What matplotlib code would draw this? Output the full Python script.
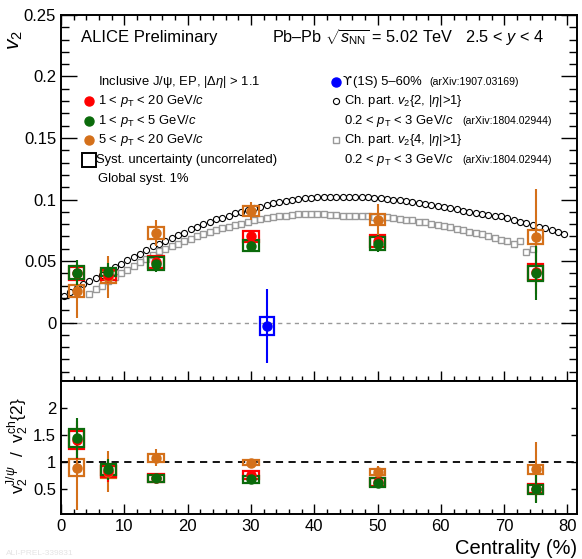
import matplotlib
matplotlib.use('Agg')
import matplotlib.pyplot as plt
from matplotlib.patches import Rectangle
from matplotlib.ticker import MultipleLocator
import numpy as np

plt.rcParams['font.family'] = ['Liberation Sans', 'DejaVu Sans']
plt.rcParams['mathtext.fontset'] = 'custom'
plt.rcParams['mathtext.rm'] = 'Liberation Sans'
plt.rcParams['mathtext.it'] = 'Liberation Sans:italic'
plt.rcParams['mathtext.bf'] = 'Liberation Sans:bold'

# J/psi v2 vs centrality
cent = [2.5, 7.5, 15, 30, 50, 75]
v2_red = [0.040, 0.039, 0.049, 0.070, 0.066, 0.041]
stat_red = [0.008, 0.007, 0.005, 0.004, 0.005, 0.018]
syst_red = [0.0050, 0.0040, 0.0050, 0.0045, 0.0048, 0.0065]
v2_green = [0.0405, 0.041, 0.048, 0.0625, 0.064, 0.040]
stat_green = [0.010, 0.0077, 0.0065, 0.004, 0.007, 0.022]
syst_green = [0.0054, 0.0034, 0.0052, 0.0047, 0.0054, 0.0063]
v2_orange = [0.0256, 0.037, 0.0728, 0.0909, 0.0836, 0.0698]
stat_orange = [0.0216, 0.017, 0.0105, 0.0075, 0.013, 0.039]
syst_orange = [0.0046, 0.0048, 0.0047, 0.0042, 0.0044, 0.0057]

# Upsilon(1S) 5-60%
cent_ups = [32.5]
v2_ups = [-0.0027]
stat_ups = [0.030]
syst_ups = [0.0071]

# ratio to charged particle v2{2}
r_red = [1.41, 0.83, 0.71, 0.76, 0.63, 0.51]
rstat_red = [0.35, 0.20, 0.05, 0.05, 0.05, 0.24]
rsyst_red = [0.16, 0.10, 0.07, 0.07, 0.07, 0.08]
r_green = [1.445, 0.864, 0.70, 0.68, 0.617, 0.495]
rstat_green = [0.37, 0.20, 0.05, 0.05, 0.05, 0.26]
rsyst_green = [0.167, 0.11, 0.07, 0.07, 0.08, 0.085]
r_orange = [0.90, 0.82, 1.08, 0.99, 0.82, 0.865]
rstat_orange = [0.79, 0.38, 0.16, 0.04, 0.11, 0.51]
rsyst_orange = [0.155, 0.11, 0.07, 0.04, 0.06, 0.08]

# charged particles v2{2,|eta|>1}
cent_ch2 = np.arange(0.5, 80, 1.0)
v2_ch2 = [0.0215, 0.0248, 0.0283, 0.0315, 0.034, 0.0365, 0.039, 0.042, 0.045, 0.048,
          0.051, 0.053, 0.056, 0.059, 0.062, 0.064, 0.066, 0.069, 0.071, 0.073,
          0.076, 0.078, 0.080, 0.082, 0.084, 0.085, 0.087, 0.089, 0.090, 0.0915,
          0.093, 0.094, 0.0955, 0.097, 0.098, 0.099, 0.100, 0.1005, 0.101, 0.1015,
          0.102, 0.102, 0.102, 0.102, 0.102, 0.102, 0.102, 0.102, 0.102, 0.1015,
          0.101, 0.1005, 0.100, 0.0995, 0.099, 0.098, 0.097, 0.096, 0.0955, 0.095,
          0.094, 0.093, 0.092, 0.091, 0.090, 0.089, 0.088, 0.0875, 0.087, 0.087,
          0.085, 0.083, 0.082, 0.081, 0.0795, 0.078, 0.0765, 0.0755, 0.074, 0.072]

# charged particles v2{4,|eta|>1}
cent_ch4 = np.arange(4.5, 75, 1.0)
v2_ch4 = [0.0235, 0.027, 0.030, 0.034, 0.037, 0.040, 0.043, 0.046, 0.049, 0.052,
          0.055, 0.058, 0.060, 0.062, 0.064, 0.066, 0.068, 0.070, 0.072, 0.0735,
          0.075, 0.0765, 0.078, 0.079, 0.0805, 0.082, 0.083, 0.084, 0.085, 0.0857,
          0.0865, 0.087, 0.0875, 0.088, 0.088, 0.088, 0.088, 0.088, 0.0877, 0.0875,
          0.087, 0.087, 0.087, 0.0868, 0.0865, 0.086, 0.0858, 0.0855, 0.085, 0.084,
          0.0835, 0.083, 0.082, 0.0815, 0.0805, 0.0795, 0.0785, 0.0775, 0.076, 0.075,
          0.0735, 0.0725, 0.072, 0.070, 0.069, 0.067, 0.0665, 0.064, 0.066, 0.057,
          0.060]

c_red = '#ff0000'
c_green = '#0b6b0b'
c_orange = '#d4701a'
c_blue = '#0000ff'


def draw(ax, x, y, stat, syst, col, hw=1.2):
    for xi, yi, si in zip(x, y, syst):
        ax.add_patch(Rectangle((xi - hw, yi - si), 2 * hw, 2 * si, fill=False,
                               edgecolor=col, lw=1.6, zorder=3))
    ax.errorbar(x, y, yerr=stat, fmt='o', color=col, ms=6.5, elinewidth=1.5,
                capsize=0, zorder=4)


fig = plt.figure(figsize=(5.82, 5.59), dpi=100)
ax1 = fig.add_axes([0.1048, 0.3184, 0.8866, 0.6548])
ax2 = fig.add_axes([0.1048, 0.0805, 0.8866, 0.2379])

ax1.axhline(0, color='#999999', lw=1, dashes=(3, 3), zorder=1)
ax1.plot(cent_ch2, v2_ch2, 'o', ms=4.4, mfc='none', mec='black', mew=0.8, zorder=2)
ax1.plot(cent_ch4, v2_ch4, 's', ms=4.3, mfc='none', mec='#999999', mew=1.0, zorder=2)
draw(ax1, cent, v2_orange, stat_orange, syst_orange, c_orange)
draw(ax1, cent, v2_red, stat_red, syst_red, c_red)
draw(ax1, cent, v2_green, stat_green, syst_green, c_green)
draw(ax1, cent_ups, v2_ups, stat_ups, syst_ups, c_blue, hw=1.1)

ax2.axhline(1, color='black', lw=1.3, dashes=(4, 3), zorder=1)
draw(ax2, cent, r_orange, rstat_orange, rsyst_orange, c_orange)
draw(ax2, cent, r_red, rstat_red, rsyst_red, c_red)
draw(ax2, cent, r_green, rstat_green, rsyst_green, c_green)

ax1.set_xlim(0, 81.5)
ax1.set_ylim(-0.0475, 0.25)
ax2.set_xlim(0, 81.5)
ax2.set_ylim(0.04, 2.5)

for ax in (ax1, ax2):
    for s in ax.spines.values():
        s.set_linewidth(1.4)
    ax.xaxis.set_major_locator(MultipleLocator(10))
    ax.xaxis.set_minor_locator(MultipleLocator(2))

ax1.yaxis.set_major_locator(MultipleLocator(0.05))
ax1.yaxis.set_minor_locator(MultipleLocator(0.01))
ax1.tick_params(which='both', direction='in', top=True, right=True, labelbottom=False)
ax1.tick_params(axis='x', which='major', length=7, width=1)
ax1.tick_params(axis='x', which='minor', length=3.5, width=1)
ax1.tick_params(axis='y', which='major', length=11.5, width=1, labelsize=12)
ax1.tick_params(axis='y', which='minor', length=5.8, width=1)
ax1.set_yticks([0, 0.05, 0.1, 0.15, 0.2, 0.25])
ax1.set_yticklabels(['0', '0.05', '0.1', '0.15', '0.2', '0.25'])

ax2.set_yticks([0.5, 1, 1.5, 2])
ax2.set_yticklabels(['0.5', '1', '1.5', '2'])
ax2.tick_params(which='both', direction='in', top=False, right=True, labelsize=12)
ax2.tick_params(axis='x', which='major', length=7, width=1)
ax2.tick_params(axis='x', which='minor', length=3.5, width=1)
ax2.tick_params(axis='y', which='major', length=4, width=1)
ax2.set_xticks([0, 10, 20, 30, 40, 50, 60, 70, 80])
ax2.set_xticklabels(['0', '10', '20', '30', '40', '50', '60', '70', '80'])

fig.text(0.027, 1 - 40 / 559, '$v_2$', rotation=90, fontsize=15, ha='center', va='center')
fig.text(0.031, 1 - 446 / 559, r'$\mathrm{v}_2^{{\rm J}/\psi}$  /  $\mathrm{v}_2^{\rm ch}${2}',
         rotation=90, fontsize=12.5, ha='center', va='center')
fig.text(0.9914, 1 - 548 / 559, 'Centrality (%)', fontsize=14.5, ha='right', va='center')
fig.text(0.01, 0.008, 'ALI-PREL-339831', fontsize=6, color='#e4e4e4')


def fx(px):
    return (px - 61) / 516


def fy(py):
    return (381 - py) / 366


tr = ax1.transAxes
ax1.text(fx(81), fy(38), 'ALICE Preliminary', transform=tr, fontsize=12, va='center')
ax1.text(fx(272), fy(38), r'Pb–Pb $\sqrt{s_{\rm NN}}$ = 5.02 TeV   2.5 < $y$ < 4',
         transform=tr, fontsize=11.7, va='center')

rows = [82, 101.5, 121, 140.4, 160, 179]
fs = 9.4
ax1.text(fx(98), fy(rows[0]), r'Inclusive J/ψ, EP, |$\Delta\eta$| > 1.1', transform=tr,
         fontsize=fs, va='center')
labs = [r'1 < $p_{\rm T}$ < 20 GeV/$c$', r'1 < $p_{\rm T}$ < 5 GeV/$c$',
        r'5 < $p_{\rm T}$ < 20 GeV/$c$']
for r, lab, col in zip(rows[1:4], labs, [c_red, c_green, c_orange]):
    ax1.plot(fx(88.8), fy(r), 'o', color=col, ms=6.5, transform=tr, clip_on=False)
    ax1.text(fx(98), fy(r), lab, transform=tr, fontsize=fs, va='center')
ax1.plot(fx(88.8), fy(rows[4]), 's', ms=9.7, mfc='none', mec='black', mew=1.4,
         transform=tr, clip_on=False)
ax1.text(fx(96.5), fy(rows[4]), 'Syst. uncertainty (uncorrelated)', transform=tr,
         fontsize=fs, va='center')
ax1.text(fx(98), fy(rows[5]), 'Global syst. 1%', transform=tr, fontsize=fs, va='center')

fs2 = 7.6
ax1.plot(fx(335.8), fy(rows[0]), 'o', color=c_blue, ms=6.5, transform=tr, clip_on=False)
ax1.text(fx(343), fy(rows[0]), 'ϒ', transform=tr, fontsize=fs, va='center',
         family='DejaVu Sans')
ax1.text(fx(353), fy(rows[0]), '(1S) 5–60%', transform=tr, fontsize=fs, va='center')
ax1.text(fx(429), fy(rows[0]), '(arXiv:1907.03169)', transform=tr, fontsize=fs2, va='center')
ax1.plot(fx(335.8), fy(rows[1]), 'o', ms=4.4, mfc='none', mec='black', mew=0.8,
         transform=tr, clip_on=False)
ax1.text(fx(344.3), fy(rows[1]), r'Ch. part. $v_2${2, |$\eta$|>1}', transform=tr,
         fontsize=fs, va='center')
ax1.text(fx(344.3), fy(rows[2]), r'0.2 < $p_{\rm T}$ < 3 GeV/$c$', transform=tr,
         fontsize=fs, va='center')
ax1.text(fx(462), fy(rows[2]), '(arXiv:1804.02944)', transform=tr, fontsize=fs2, va='center')
ax1.plot(fx(335.8), fy(rows[3]), 's', ms=4.3, mfc='none', mec='#999999', mew=1.0,
         transform=tr, clip_on=False)
ax1.text(fx(344.3), fy(rows[3]), r'Ch. part. $v_2${4, |$\eta$|>1}', transform=tr,
         fontsize=fs, va='center')
ax1.text(fx(344.3), fy(rows[4]), r'0.2 < $p_{\rm T}$ < 3 GeV/$c$', transform=tr,
         fontsize=fs, va='center')
ax1.text(fx(462), fy(rows[4]), '(arXiv:1804.02944)', transform=tr, fontsize=fs2, va='center')

fig.savefig('out.png', dpi=100)
